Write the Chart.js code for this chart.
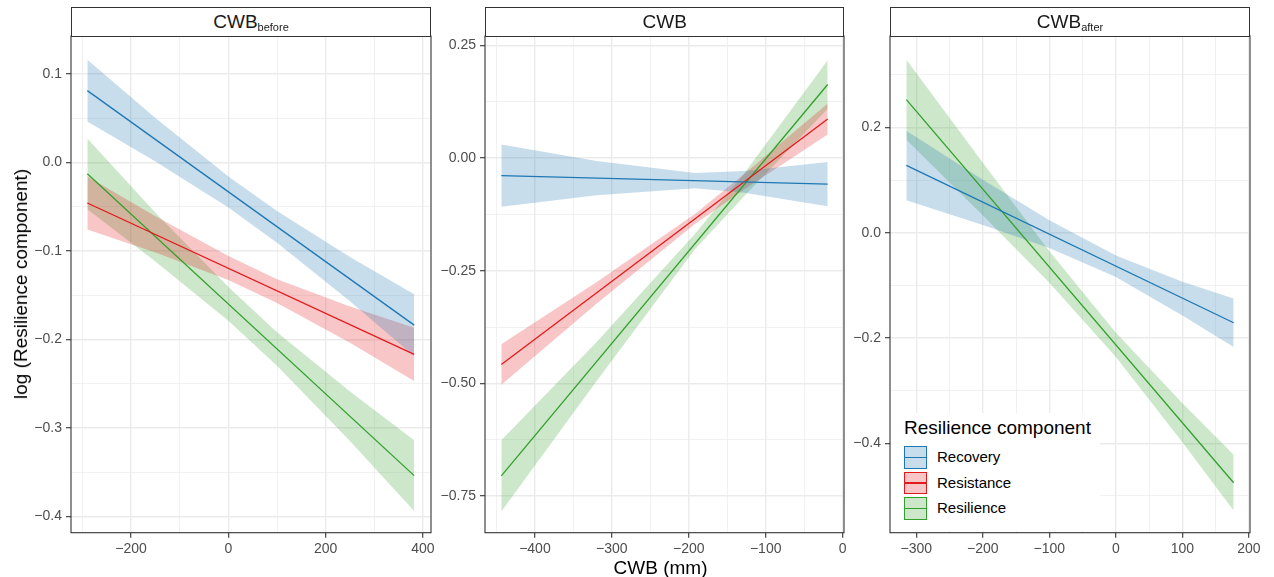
<!DOCTYPE html>
<html>
<head>
<meta charset="utf-8">
<script src="https://cdn.jsdelivr.net/npm/chart.js@4.4.1/dist/chart.umd.min.js"></script>
<style>
html,body{margin:0;padding:0;background:#fff;width:1274px;height:577px;overflow:hidden;font-family:'Liberation Sans',Arial,Helvetica,sans-serif;}
canvas{position:absolute;}
.strip{position:absolute;box-sizing:border-box;border:1px solid #333;background:#fff;text-align:center;font-size:19px;line-height:28px;color:#1a1a1a;white-space:nowrap;}
.strip span.sub{font-size:11px;position:relative;top:3px;}
.ttl{position:absolute;font-size:19px;line-height:20px;color:#000;white-space:nowrap;}
#legend{position:absolute;background:#fff;}
#legend .lt{position:absolute;font-size:19px;line-height:20px;color:#000;white-space:nowrap;}
#legend .key{position:absolute;box-sizing:border-box;}
#legend .key .ln{position:absolute;left:0;right:0;top:50%;height:1.3px;margin-top:-0.65px;}
#legend .lab{position:absolute;font-size:15px;line-height:18px;color:#000;white-space:nowrap;}
</style>
</head>
<body>
<script>
// ---------------- data ----------------
const xTitle = 'CWB (mm)';
const yTitle = 'log (Resilience component)';
const legendTitle = 'Resilience component';
const seriesNames = ['Recovery', 'Resistance', 'Resilience'];
const seriesColors = ['#1f78b4', '#e31a1c', '#33a02c'];
const stripMain = ['CWB', 'CWB', 'CWB'];
const stripSub = ['before', '', 'after'];

// Panel 1: CWB_before
const p1LineX = [-290, 382];
const p1RecoveryLine = [0.081, -0.184];
const p1ResistanceLine = [-0.046, -0.217];
const p1ResilienceLine = [-0.013, -0.354];
const p1BandX = [-290, -150, 0, 100, 250, 382];
const p1RecoveryUpper = [0.116, 0.050, -0.016, -0.055, -0.107, -0.149];
const p1RecoveryLower = [0.046, 0.001, -0.051, -0.091, -0.157, -0.219];
const p1ResistanceUpper = [-0.016, -0.061, -0.106, -0.132, -0.163, -0.187];
const p1ResistanceLower = [-0.076, -0.102, -0.133, -0.159, -0.204, -0.247];
const p1ResilienceUpper = [0.027, -0.057, -0.141, -0.192, -0.259, -0.314];
const p1ResilienceLower = [-0.053, -0.112, -0.179, -0.230, -0.315, -0.394];
const p1XTicks = [-200, 0, 200, 400];
const p1XLabels = ['\u2212200', '0', '200', '400'];
const p1XMinor = [-300, -100, 100, 300];
const p1YTicks = [0.1, 0.0, -0.1, -0.2, -0.3, -0.4];
const p1YLabels = ['0.1', '0.0', '\u22120.1', '\u22120.2', '\u22120.3', '\u22120.4'];
const p1YMinor = [0.05, -0.05, -0.15, -0.25, -0.35];
const p1XRange = [-323.6, 416.6];
const p1YRange = [-0.4185, 0.1427];

// Panel 2: CWB
const p2LineX = [-443.7, -19.4];
const p2RecoveryLine = [-0.039, -0.058];
const p2ResistanceLine = [-0.458, 0.0865];
const p2ResilienceLine = [-0.705, 0.163];
const p2BandX = [-443.7, -320, -192, -128, -19.4];
const p2RecoveryUpper = [0.030, -0.0065, -0.0332, -0.029, -0.009];
const p2RecoveryLower = [-0.108, -0.0825, -0.0672, -0.0772, -0.107];
const p2ResistanceUpper = [-0.413, -0.2753, -0.124, -0.0357, 0.121];
const p2ResistanceLower = [-0.503, -0.3233, -0.1462, -0.0701, 0.052];
const p2ResilienceUpper = [-0.626, -0.4088, -0.1685, -0.0345, 0.217];
const p2ResilienceLower = [-0.784, -0.4952, -0.2025, -0.0847, 0.109];
const p2XTicks = [-400, -300, -200, -100, 0];
const p2XLabels = ['\u2212400', '\u2212300', '\u2212200', '\u2212100', '0'];
const p2XMinor = [-450, -350, -250, -150, -50];
const p2YTicks = [0.25, 0.0, -0.25, -0.5, -0.75];
const p2YLabels = ['0.25', '0.00', '\u22120.25', '\u22120.50', '\u22120.75'];
const p2YMinor = [0.125, -0.125, -0.375, -0.625];
const p2XRange = [-464.9, 1.8];
const p2YRange = [-0.831, 0.2706];

// Panel 3: CWB_after
const p3LineX = [-315, 177];
const p3RecoveryLine = [0.128, -0.171];
const p3ResilienceLine = [0.253, -0.475];
const p3BandX = [-315, -200, -100, 0, 100, 177];
const p3RecoveryUpper = [0.194, 0.101, 0.024, -0.043, -0.093, -0.125];
const p3RecoveryLower = [0.062, 0.015, -0.029, -0.084, -0.157, -0.217];
const p3ResilienceUpper = [0.329, 0.133, -0.035, -0.190, -0.324, -0.422];
const p3ResilienceLower = [0.177, 0.033, -0.095, -0.236, -0.398, -0.528];
const p3XTicks = [-300, -200, -100, 0, 100, 200];
const p3XLabels = ['\u2212300', '\u2212200', '\u2212100', '0', '100', '200'];
const p3XMinor = [-250, -150, -50, 50, 150];
const p3YTicks = [0.2, 0.0, -0.2, -0.4];
const p3YLabels = ['0.2', '0.0', '\u22120.2', '\u22120.4'];
const p3YMinor = [0.3, 0.1, -0.1, -0.3, -0.5];
const p3XRange = [-339.6, 201.6];
const p3YRange = [-0.570, 0.374];

// ---------------- layout ----------------
const FONT = "'Liberation Sans', Arial, Helvetica, sans-serif";
const PANEL_TOP = 36, PANEL_BOTTOM = 532.7;
const panelBoxes = [[71, 431], [485, 844.3], [890, 1250]];
const Y_AXIS_W = 70, PAD_TOP = 16, PAD_RIGHT = 16, X_AXIS_H = 40.3;
const CANVAS_TOP = PANEL_TOP - PAD_TOP;
const CANVAS_H = Math.round(PAD_TOP + (PANEL_BOTTOM - PANEL_TOP) + X_AXIS_H);

function hexToRgba(hex, a) {
  const n = parseInt(hex.slice(1), 16);
  return 'rgba(' + ((n >> 16) & 255) + ',' + ((n >> 8) & 255) + ',' + (n & 255) + ',' + a + ')';
}
function pts(xs, ys) { return xs.map((x, i) => ({ x: x, y: ys[i] })); }
function bandSets(xs, up, lo, color) {
  return [
    { data: pts(xs, up), fill: '+1', backgroundColor: hexToRgba(color, 0.25), borderColor: 'rgba(0,0,0,0)', borderWidth: 0, pointRadius: 0, order: 2 },
    { data: pts(xs, lo), fill: false, borderColor: 'rgba(0,0,0,0)', borderWidth: 0, pointRadius: 0, order: 2 }
  ];
}
function lineSet(xs, ys, color) {
  return { data: pts(xs, ys), fill: false, borderColor: color, borderWidth: 1.3, pointRadius: 0, order: 0 };
}
function scaleCfg(axis, range, majors, labels, minors, fitFn) {
  const all = majors.concat(minors).sort((a, b) => a - b);
  const idx = v => majors.findIndex(m => Math.abs(m - v) < 1e-9);
  const isMajor = c => c.tick ? idx(c.tick.value) >= 0 : true;
  return {
    type: 'linear', min: range[0], max: range[1],
    afterBuildTicks: s => { s.ticks = all.map(v => ({ value: v })); },
    afterFit: fitFn,
    border: { display: false },
    grid: {
      color: '#ebebeb',
      lineWidth: c => isMajor(c) ? 1.4 : 0.7,
      drawTicks: true, tickLength: 5,
      tickColor: c => isMajor(c) ? '#333333' : 'rgba(0,0,0,0)',
      tickWidth: 1.1
    },
    ticks: {
      autoSkip: false, maxRotation: 0, minRotation: 0, color: '#4d4d4d',
      font: { family: FONT, size: 14 }, padding: axis === 'x' ? 3 : 4,
      callback: v => { const i = idx(v); return i >= 0 ? labels[i] : ''; }
    }
  };
}
const borderPlugin = {
  id: 'panelBorder',
  afterDraw(chart) {
    const a = chart.chartArea, c = chart.ctx;
    c.save(); c.strokeStyle = '#333333'; c.lineWidth = 1.1;
    c.strokeRect(a.left, a.top, a.right - a.left, a.bottom - a.top);
    c.restore();
  }
};

function makePanel(i, datasets, xr, xt, xl, xm, yr, yt, yl, ym) {
  const [pl, pr] = panelBoxes[i];
  const cw = Math.round(pr - pl) + Y_AXIS_W + PAD_RIGHT;
  const cv = document.createElement('canvas');
  cv.width = cw; cv.height = CANVAS_H;
  cv.style.left = (pl - Y_AXIS_W) + 'px'; cv.style.top = CANVAS_TOP + 'px';
  cv.style.width = cw + 'px'; cv.style.height = CANVAS_H + 'px';
  document.body.appendChild(cv);
  const xH = CANVAS_H - PAD_TOP - (PANEL_BOTTOM - PANEL_TOP);
  new Chart(cv.getContext('2d'), {
    type: 'line',
    data: { datasets: datasets },
    options: {
      responsive: false, animation: false, devicePixelRatio: 1,
      layout: { padding: { top: PAD_TOP, right: PAD_RIGHT, left: 0, bottom: 0 } },
      plugins: { legend: { display: false }, tooltip: { enabled: false }, title: { display: false } },
      elements: { line: { tension: 0 }, point: { radius: 0 } },
      scales: {
        x: scaleCfg('x', xr, xt, xl, xm, s => { s.height = xH; }),
        y: scaleCfg('y', yr, yt, yl, ym, s => { s.width = Y_AXIS_W; })
      }
    },
    plugins: [borderPlugin]
  });
}

makePanel(0, [
  ...bandSets(p1BandX, p1RecoveryUpper, p1RecoveryLower, seriesColors[0]),
  ...bandSets(p1BandX, p1ResistanceUpper, p1ResistanceLower, seriesColors[1]),
  ...bandSets(p1BandX, p1ResilienceUpper, p1ResilienceLower, seriesColors[2]),
  lineSet(p1LineX, p1RecoveryLine, seriesColors[0]),
  lineSet(p1LineX, p1ResistanceLine, seriesColors[1]),
  lineSet(p1LineX, p1ResilienceLine, seriesColors[2])
], p1XRange, p1XTicks, p1XLabels, p1XMinor, p1YRange, p1YTicks, p1YLabels, p1YMinor);

makePanel(1, [
  ...bandSets(p2BandX, p2RecoveryUpper, p2RecoveryLower, seriesColors[0]),
  ...bandSets(p2BandX, p2ResistanceUpper, p2ResistanceLower, seriesColors[1]),
  ...bandSets(p2BandX, p2ResilienceUpper, p2ResilienceLower, seriesColors[2]),
  lineSet(p2LineX, p2RecoveryLine, seriesColors[0]),
  lineSet(p2LineX, p2ResistanceLine, seriesColors[1]),
  lineSet(p2LineX, p2ResilienceLine, seriesColors[2])
], p2XRange, p2XTicks, p2XLabels, p2XMinor, p2YRange, p2YTicks, p2YLabels, p2YMinor);

makePanel(2, [
  ...bandSets(p3BandX, p3RecoveryUpper, p3RecoveryLower, seriesColors[0]),
  ...bandSets(p3BandX, p3ResilienceUpper, p3ResilienceLower, seriesColors[2]),
  lineSet(p3LineX, p3RecoveryLine, seriesColors[0]),
  lineSet(p3LineX, p3ResilienceLine, seriesColors[2])
], p3XRange, p3XTicks, p3XLabels, p3XMinor, p3YRange, p3YTicks, p3YLabels, p3YMinor);

// strips
panelBoxes.forEach(([pl, pr], i) => {
  const d = document.createElement('div');
  d.className = 'strip';
  d.style.left = pl + 'px'; d.style.top = '7px';
  d.style.width = (pr - pl) + 'px'; d.style.height = '30px';
  d.appendChild(document.createTextNode(stripMain[i]));
  if (stripSub[i]) {
    const s = document.createElement('span'); s.className = 'sub'; s.textContent = stripSub[i];
    d.appendChild(s);
  }
  document.body.appendChild(d);
});

// axis titles
const xt = document.createElement('div');
xt.className = 'ttl'; xt.textContent = xTitle;
xt.style.left = '660.5px'; xt.style.top = '557.5px'; xt.style.transform = 'translateX(-50%)';
document.body.appendChild(xt);
const yt = document.createElement('div');
yt.className = 'ttl'; yt.textContent = yTitle;
yt.style.left = '21px'; yt.style.top = '284px'; yt.style.transform = 'translate(-50%,-50%) rotate(-90deg)';
document.body.appendChild(yt);

// legend
const lg = document.createElement('div');
lg.id = 'legend';
lg.style.left = '891px'; lg.style.top = '413px'; lg.style.width = '209px'; lg.style.height = '118px';
const lt = document.createElement('div'); lt.className = 'lt'; lt.textContent = legendTitle;
lt.style.left = '13px'; lt.style.top = '5px'; lg.appendChild(lt);
seriesNames.forEach((nm, i) => {
  const top = 33 + i * 25.6;
  const k = document.createElement('div'); k.className = 'key';
  k.style.left = '13px'; k.style.top = top + 'px'; k.style.width = '22.5px'; k.style.height = '22.5px';
  k.style.border = '1.3px solid ' + seriesColors[i]; k.style.background = hexToRgba(seriesColors[i], 0.25);
  const ln = document.createElement('div'); ln.className = 'ln'; ln.style.background = seriesColors[i];
  k.appendChild(ln); lg.appendChild(k);
  const lb = document.createElement('div'); lb.className = 'lab'; lb.textContent = nm;
  lb.style.left = '46px'; lb.style.top = (top + 11.25 - 9) + 'px'; lg.appendChild(lb);
});
document.body.appendChild(lg);
</script>
</body>
</html>
